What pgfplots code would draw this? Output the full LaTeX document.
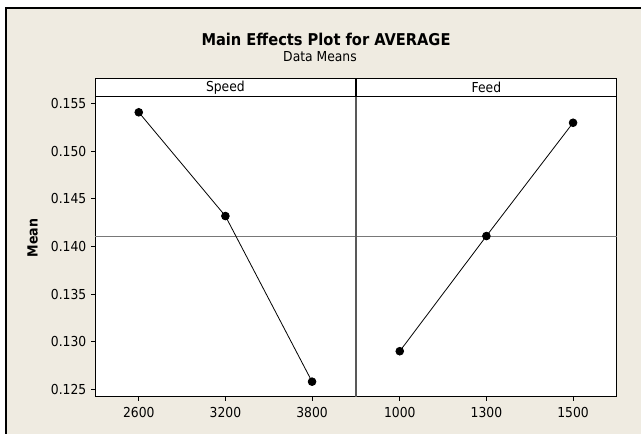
\documentclass[border=0pt]{standalone}
\usepackage{fontspec}
\setmainfont{DejaVu Sans Condensed}
\usepackage{pgfplots}
\pgfplotsset{compat=1.18}
\definecolor{bg}{RGB}{239,235,225}
\definecolor{meangray}{RGB}{120,120,120}
\pgfplotsset{
  panel/.style={
    anchor=south west, scale only axis,
    width=195.6pt, height=225.2pt,
    xmin=-0.505, xmax=2.505,
    ymin=0.12419, ymax=0.155735,
    axis background/.style={fill=white},
    axis line style={black, line width=0.75pt},
    tick style={black, line width=0.75pt},
    major tick length=3pt, tick align=outside,
    xtick={0,1,2}, xtick pos=bottom, ytick pos=left,
    ytick={0.125,0.130,0.135,0.140,0.145,0.150,0.155},
    /pgf/number format/assume math mode=true,
    yticklabel style={/pgf/number format/fixed, /pgf/number format/precision=3, /pgf/number format/fixed zerofill},
    xticklabel style={yshift=-1.5pt},
    tick label style={font=\fontsize{10.3}{12}\selectfont},
    clip=false,
  },
}
\begin{document}
\begin{tikzpicture}
\fill[white] (0,0) rectangle (480.75pt,325.5pt);
\fill[bg] (5pt,0) rectangle (480.75pt,318.7pt);
\fill[black] (4pt,318.7pt) rectangle (480.75pt,320.5pt);
\fill[black] (4pt,0) rectangle (5pt,320.5pt);
\node[font=\bfseries\fontsize{12.2}{14}\selectfont] at (244.5pt,{(434-39.5)*0.75pt}) {Main Effects Plot for AVERAGE};
\node[font=\fontsize{10.3}{12}\selectfont] at (240pt,{(434-57)*0.75pt}) {Data Means};
\node[rotate=90, font=\bfseries\fontsize{10.5}{12}\selectfont] at (24.5pt,{(434-238)*0.75pt}) {Mean};
\begin{axis}[panel, at={(71.25pt,27.75pt)}, xticklabels={2600,3200,3800}]
  \draw[black, line width=0.75pt, fill=white] (rel axis cs:0,1) rectangle (rel axis cs:1,1.0623);
  \node[font=\fontsize{10.3}{12}\selectfont] at (rel axis cs:0.5,1.0311) {Speed};
  \addplot[meangray, line width=1pt, forget plot] coordinates {(-0.505,0.14103) (2.505,0.14103)};
  \addplot[black, line width=0.6pt, mark=*, mark size=2.9pt, mark options={fill=black}] coordinates {(0,0.1541) (1,0.1432) (2,0.1258)};
\end{axis}
\begin{axis}[panel, at={(267pt,27.75pt)}, xticklabels={1000,1300,1500}, yticklabels={}, ytick style={draw=none}]
  \draw[black, line width=0.75pt, fill=white] (rel axis cs:0,1) rectangle (rel axis cs:1,1.0623);
  \node[font=\fontsize{10.3}{12}\selectfont] at (rel axis cs:0.5,1.0311) {Feed};
  \addplot[meangray, line width=1pt, forget plot] coordinates {(-0.505,0.14103) (2.505,0.14103)};
  \addplot[black, line width=0.6pt, mark=*, mark size=2.9pt, mark options={fill=black}] coordinates {(0,0.1290) (1,0.1411) (2,0.1530)};
  \draw[black!65, line width=1.5pt] (rel axis cs:0,0) -- (rel axis cs:0,1);
\end{axis}
\end{tikzpicture}
\end{document}
